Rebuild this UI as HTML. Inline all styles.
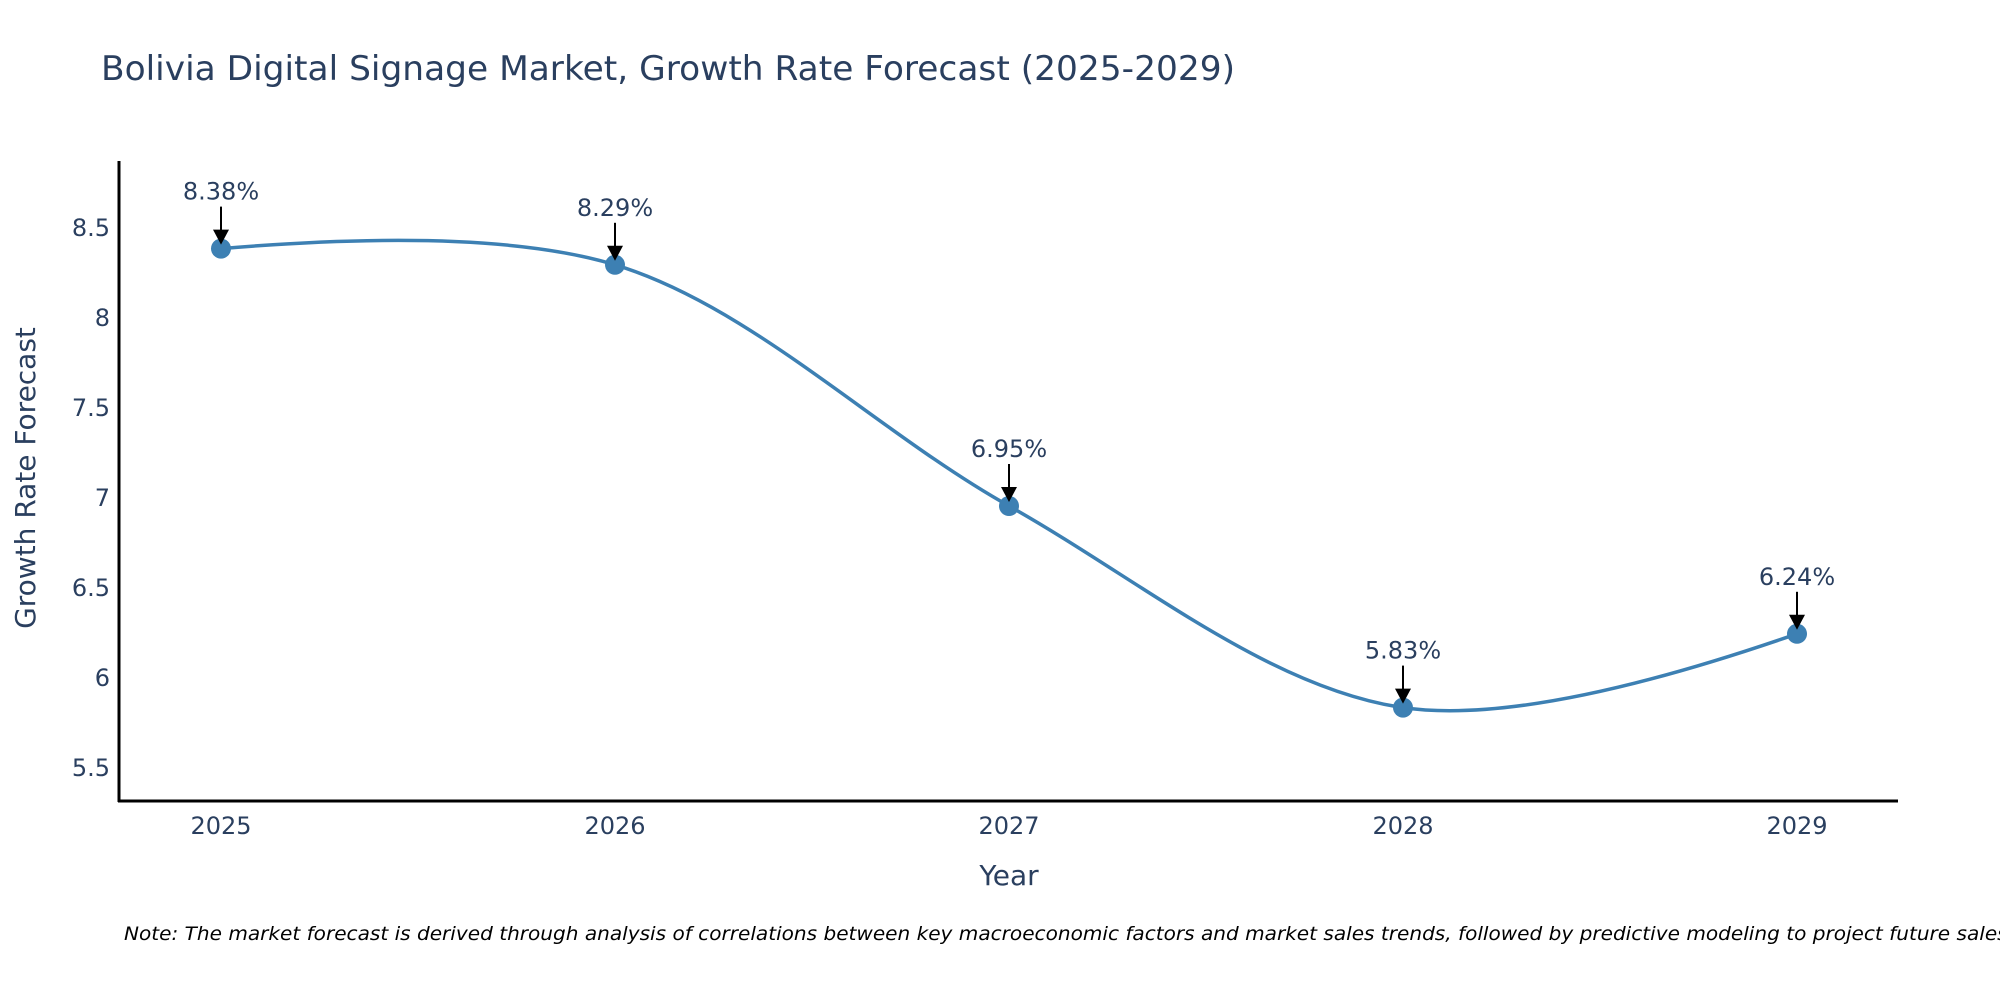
<!DOCTYPE html>
<html><head><meta charset="utf-8"><style>
html,body{margin:0;padding:0;background:#fff;}
svg{display:block;font-family:"DejaVu Sans","Liberation Sans",sans-serif;}
</style></head><body>
<svg id="chart" width="2000" height="1000" viewBox="0 0 2000 1000">
<text x="101" y="80" font-size="34" fill="#2a3f5f" textLength="1134" lengthAdjust="spacingAndGlyphs">Bolivia Digital Signage Market, Growth Rate Forecast (2025-2029)</text>
<g id="yticks"></g>
<g id="xticks"></g>
<line x1="119" y1="161" x2="119" y2="802" stroke="#000" stroke-width="3"/>
<line x1="118" y1="801" x2="1898" y2="801" stroke="#000" stroke-width="3"/>
<text transform="translate(35,478) rotate(-90)" text-anchor="middle" font-size="28" fill="#2a3f5f">Growth Rate Forecast</text>
<text x="1009" y="885" text-anchor="middle" font-size="28" fill="#2a3f5f">Year</text>
<g id="series"></g>
<g id="annots"></g>
<text x="124" y="940" font-size="19" font-style="italic" fill="#000" textLength="1890" lengthAdjust="spacingAndGlyphs">Note: The market forecast is derived through analysis of correlations between key macroeconomic factors and market sales trends, followed by predictive modeling to project future sales.</text>
</svg>
<script>
const years = [2025, 2026, 2027, 2028, 2029];
const rates = [8.38, 8.29, 6.95, 5.83, 6.24];
const labels = ["8.38%", "8.29%", "6.95%", "5.83%", "6.24%"];
const yTickValues = [5.5, 6, 6.5, 7, 7.5, 8, 8.5];
const yTickLabels = ["5.5", "6", "6.5", "7", "7.5", "8", "8.5"];

const NS = "http://www.w3.org/2000/svg";
function xScale(yr){ return 221 + (yr - 2025) * 394; }
function yScale(v){ return 227 + (8.5 - v) * 180; }
function mk(tag, attrs, parent){
  const e = document.createElementNS(NS, tag);
  for (const k in attrs) e.setAttribute(k, attrs[k]);
  parent.appendChild(e); return e;
}
const yt = document.getElementById('yticks');
yTickValues.forEach((v,i)=>{
  const t = mk('text',{x:110,y:yScale(v)+9,'text-anchor':'end','font-size':24,fill:'#2a3f5f'},yt);
  
  
  t.textContent = yTickLabels[i];
});
const xt = document.getElementById('xticks');
years.forEach(yr=>{
  const t = mk('text',{x:xScale(yr),y:834,'text-anchor':'middle','font-size':24,fill:'#2a3f5f'},xt);
  
  
  t.textContent = String(yr);
});
// plotly-style spline
const pts = years.map((yr,i)=>[xScale(yr), yScale(rates[i])]);
function tangent(p0,p1,p2,s){
  const d1x=p0[0]-p1[0], d1y=p0[1]-p1[1], d2x=p2[0]-p1[0], d2y=p2[1]-p1[1];
  const d1a=Math.pow(d1x*d1x+d1y*d1y,0.25), d2a=Math.pow(d2x*d2x+d2y*d2y,0.25);
  const nx=(d2a*d2a*d1x-d1a*d1a*d2x)*s, ny=(d2a*d2a*d1y-d1a*d1a*d2y)*s;
  const den1=3*d2a*(d1a+d2a), den2=3*d1a*(d1a+d2a);
  return [[p1[0]+nx/den1,p1[1]+ny/den1],[p1[0]-nx/den2,p1[1]-ny/den2]];
}
const tg=[];
for(let i=1;i<pts.length-1;i++) tg.push(tangent(pts[i-1],pts[i],pts[i+1],1));
const f=p=>p[0].toFixed(2)+','+p[1].toFixed(2);
let d='M'+f(pts[0])+'Q'+f(tg[0][0])+' '+f(pts[1]);
for(let i=2;i<pts.length-1;i++) d+='C'+f(tg[i-2][1])+' '+f(tg[i-1][0])+' '+f(pts[i]);
d+='Q'+f(tg[pts.length-3][1])+' '+f(pts[pts.length-1]);
const sg=document.getElementById('series');
const line=mk('path',{d:d,fill:'none',stroke:'#3d80b3','stroke-width':3.5},sg);


pts.forEach((p,i)=>{
  const c=mk('circle',{cx:p[0],cy:p[1],r:10,fill:'#3d80b3'},sg);
  
  
});
const an=document.getElementById('annots');
pts.forEach((p,i)=>{
  const ln=mk('line',{x1:p[0],y1:p[1]-42,x2:p[0],y2:p[1]-16,stroke:'#000','stroke-width':2},an);
  
  
  const hd=mk('polygon',{points:(p[0]-8)+','+(p[1]-19)+' '+(p[0]+8)+','+(p[1]-19)+' '+p[0]+','+(p[1]-4),fill:'#000'},an);
  
  
  const t=mk('text',{x:p[0],y:p[1]-49,'text-anchor':'middle','font-size':24,fill:'#2a3f5f'},an);
  
  
  t.textContent=labels[i];
});
</script>
</body></html>
